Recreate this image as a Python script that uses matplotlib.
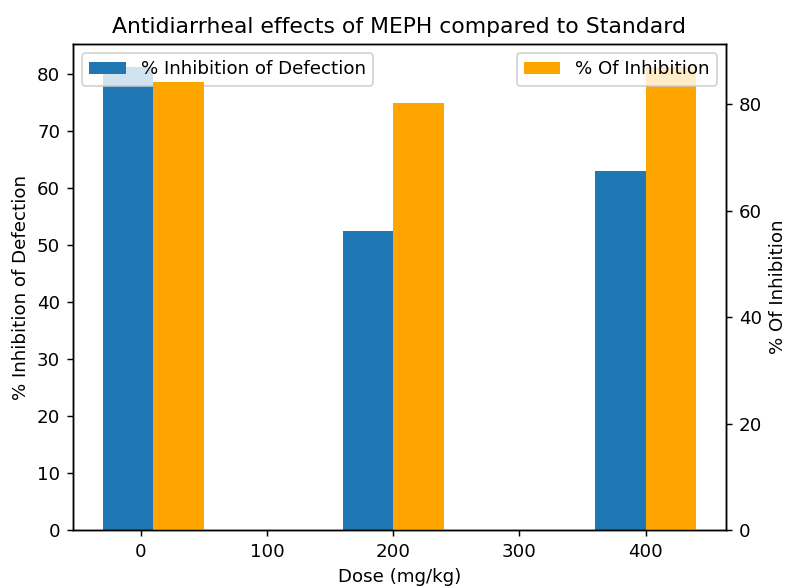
import numpy as np
import matplotlib
matplotlib.use('Agg')
import matplotlib.pyplot as plt

# doses (mg/kg)
doses = [10, 200, 400]
inhibition_defecation = [81.2, 52.4, 63.0]
inhibition_other = [84.2, 80.2, 87.0]

width = 40
scale = 1.316

fig = plt.figure(figsize=(7.86 / scale, 5.86 / scale), dpi=100 * scale)
ax1 = fig.add_axes([73 / 786, 56 / 586, (726 - 73) / 786, (530 - 44) / 586])
ax2 = ax1.twinx()

x = np.array(doses)
ax1.bar(x - width / 2, inhibition_defecation, width, color='#1f77b4',
        label='% Inhibition of Defection')
ax2.bar(x + width / 2, inhibition_other, width, color='orange',
        label='% Of Inhibition')

ax1.set_xlabel('Dose (mg/kg)')
ax1.set_ylabel('% Inhibition of Defection')
ax2.set_ylabel('% Of Inhibition')
ax1.set_title('Antidiarrheal effects of MEPH compared to Standard')

ax1.set_xticks([0, 100, 200, 300, 400])
ax1.legend(loc='upper left')
ax2.legend(loc='upper right')

fig.savefig('out.png', dpi=100 * scale)
